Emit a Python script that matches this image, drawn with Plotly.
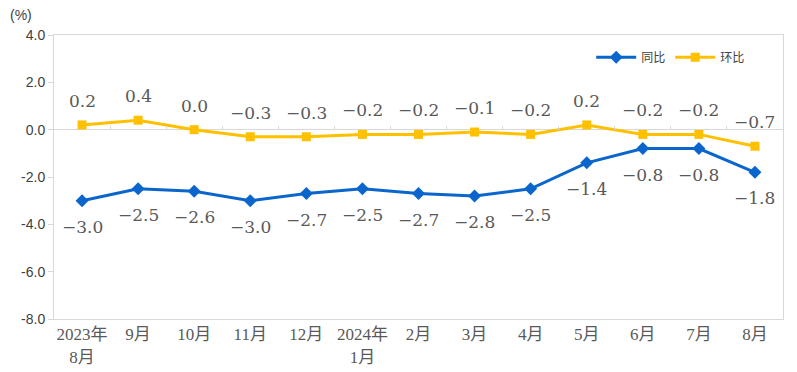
import plotly.graph_objects as go

categories = ["2023年<br>8月", "9月", "10月", "11月", "12月", "2024年<br>1月",
              "2月", "3月", "4月", "5月", "6月", "7月", "8月"]
yoy = [-3.0, -2.5, -2.6, -3.0, -2.7, -2.5, -2.7, -2.8, -2.5, -1.4, -0.8, -0.8, -1.8]
mom = [0.2, 0.4, 0.0, -0.3, -0.3, -0.2, -0.2, -0.1, -0.2, 0.2, -0.2, -0.2, -0.7]
y_ticks = [4, 2, 0, -2, -4, -6, -8]
y_ticklabels = ["4.0", "2.0", "0.0", "-2.0", "-4.0", "-6.0", "-8.0"]

BLUE = "#0A66CC"
YELLOW = "#FFC000"
GRID = "#D9D9D9"
LABEL_FONT = dict(family="DejaVu Serif, Noto Sans CJK SC", size=17, color="#595959")

def fmt(v):
    return f"{v:.1f}".replace("-", "−")

fig = go.Figure()
fig.add_trace(go.Scatter(x=categories, y=yoy, name="同比", mode="lines+markers",
                         line=dict(color=BLUE, width=3),
                         marker=dict(symbol="diamond", size=10, color=BLUE)))
fig.add_trace(go.Scatter(x=categories, y=mom, name="环比", mode="lines+markers",
                         line=dict(color=YELLOW, width=3),
                         marker=dict(symbol="square", size=9, color=YELLOW)))
# invisible trace for the tick axis at y=0
fig.add_trace(go.Scatter(x=categories, y=mom, xaxis="x2", mode="lines",
                         line=dict(width=0), showlegend=False, hoverinfo="skip",
                         opacity=0))

for c, v in zip(categories, yoy):
    fig.add_annotation(x=c, y=v, text=fmt(v), showarrow=False, yshift=-26,
                       font=LABEL_FONT)
for c, v in zip(categories, mom):
    fig.add_annotation(x=c, y=v, text=fmt(v), showarrow=False, yshift=24,
                       font=LABEL_FONT)

fig.add_annotation(x=0.0, y=1.0, xref="paper", yref="paper", xanchor="left", yanchor="top",
                   text="(%)", showarrow=False,
                   font=dict(family="Liberation Sans, Arial", size=14, color="#404040"),
                   xshift=-46, yshift=30)

fig.update_layout(
    width=789, height=364,
    margin=dict(l=46, r=14, t=27, b=53),
    paper_bgcolor="white", plot_bgcolor="white",
    showlegend=True,
    legend=dict(orientation="h", x=0.955, xanchor="right", y=0.922, yanchor="middle",
                font=dict(family="Noto Sans CJK SC", size=12, color="#404040"),
                bgcolor="rgba(0,0,0,0)", itemwidth=40, tracegroupgap=0),
    xaxis=dict(type="category", range=[-0.5, 12.5], showgrid=False, showline=True,
               linecolor=GRID, linewidth=1, mirror=True, ticks="", zeroline=False,
               ticklabelstandoff=0, automargin=False,
               tickfont=dict(family="Liberation Serif, Noto Sans CJK SC", size=17, color="#595959")),
    xaxis2=dict(type="category", overlaying="x", anchor="free", position=2/3,
                side="bottom", showgrid=False, showline=False, ticks="inside",
                tickson="boundaries", ticklen=4, tickcolor=GRID, showticklabels=False,
                matches="x", automargin=False),
    yaxis=dict(range=[-8, 4], tickvals=y_ticks, ticktext=y_ticklabels, showgrid=False,
               zeroline=True, zerolinecolor=GRID, zerolinewidth=1, automargin=False,
               showline=True, linecolor=GRID, mirror=True, ticks="outside", ticklen=5,
               tickcolor=GRID,
               tickfont=dict(family="Liberation Sans, Arial", size=14, color="#404040")),
)

fig.write_html("out.html")
